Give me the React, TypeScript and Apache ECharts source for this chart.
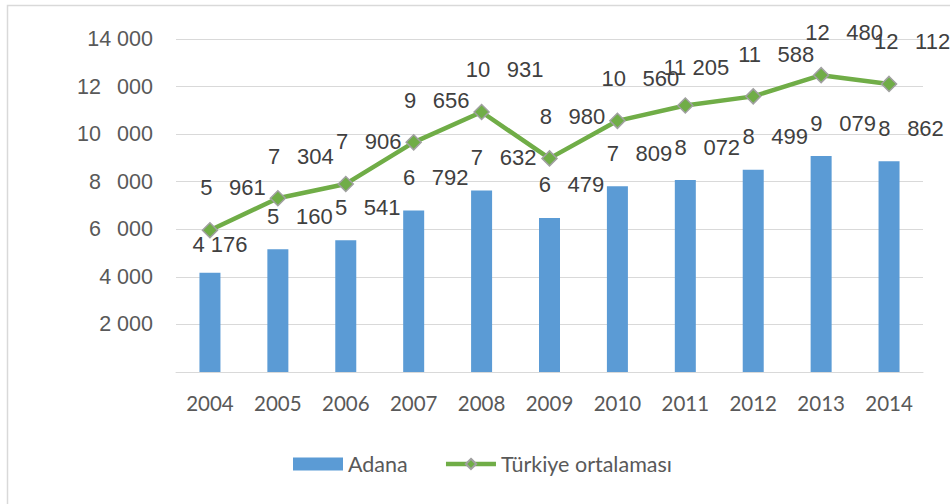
import React, { useEffect, useRef } from 'react';
import * as echarts from 'echarts';

const years = ['2004', '2005', '2006', '2007', '2008', '2009', '2010', '2011', '2012', '2013', '2014'];
const adana = [4176, 5160, 5541, 6792, 7632, 6479, 7809, 8072, 8499, 9079, 8862];
const turkiye = [5961, 7304, 7906, 9656, 10931, 8980, 10560, 11205, 11588, 12480, 12112];
const seriesNames = ['Adana', 'Türkiye ortalaması'];
// values whose thousands separator is rendered narrow in the original
const narrowLabels = [4176, 11205, 14000, 4000, 2000];

const fmt = (v: number) => {
  const s = String(Math.round(v));
  if (s.length <= 3) return s;
  const sep = narrowLabels.includes(v) ? ' ' : '\u00A0\u2009\u00A0';
  return s.slice(0, -3) + sep + s.slice(-3);
};

export default function App() {
  const ref = useRef<HTMLDivElement>(null);
  useEffect(() => {
    if (!ref.current) return;
    const chart = echarts.init(ref.current, undefined, { renderer: 'svg' });
    const arial = '"Liberation Sans", Arial, sans-serif';
    const calibri = 'Lato, "Open Sans", sans-serif';
    chart.setOption({
      animation: false,
      backgroundColor: '#ffffff',
      graphic: [
        {
          type: 'rect',
          shape: { x: 7.5, y: 5.5, width: 2000, height: 2000 },
          style: { fill: 'none', stroke: '#D9D9D9', lineWidth: 1.5 },
          silent: true,
          z: -10,
        },
      ],
      grid: { left: 176, right: 27, top: 39, bottom: 132, containLabel: false },
      legend: {
        left: 288,
        top: 447,
        itemWidth: 50,
        itemHeight: 13,
        itemGap: 36,
        textStyle: { fontFamily: calibri, fontSize: 21.5, color: '#595959', lineHeight: 24 },
        data: [
          { name: seriesNames[0], icon: 'rect' },
          { name: seriesNames[1], lineStyle: { width: 4.5, color: '#70AD47' } },
        ],
      },
      xAxis: {
        type: 'category',
        data: years,
        axisLine: { show: true, lineStyle: { color: '#D9D9D9', width: 1 } },
        axisTick: { show: false },
        axisLabel: { fontFamily: calibri, fontSize: 20.5, color: '#595959', margin: 21, lineHeight: 20 },
      },
      yAxis: {
        type: 'value',
        min: 0,
        max: 14000,
        interval: 2000,
        axisLine: { show: false },
        axisTick: { show: false },
        splitLine: { lineStyle: { color: '#D9D9D9', width: 1 } },
        axisLabel: {
          fontFamily: arial,
          fontSize: 21.5,
          color: '#595959',
          margin: 23,
          formatter: (v: number) => (v === 0 ? '' : fmt(v)),
        },
      },
      series: [
        {
          name: seriesNames[0],
          type: 'bar',
          barWidth: 21,
          itemStyle: { color: '#5B9BD5' },
          label: {
            show: true,
            position: 'top',
            distance: 0,
            fontFamily: arial,
            fontSize: 22,
            lineHeight: 22,
            color: '#404040',
            formatter: (p: any) => fmt(p.value),
          },
          data: adana.map((v) => ({
            value: v,
            label: { offset: narrowLabels.includes(v) ? [10, -17] : [22, -22] },
          })),
          z: 2,
        },
        {
          name: seriesNames[1],
          type: 'line',
          symbol: 'diamond',
          symbolSize: 15,
          lineStyle: { color: '#70AD47', width: 4.5 },
          itemStyle: { color: '#70AD47', borderColor: '#A0A0A0', borderWidth: 1.5 },
          label: {
            show: true,
            position: 'top',
            distance: 0,
            fontFamily: arial,
            fontSize: 22,
            lineHeight: 22,
            color: '#404040',
            formatter: (p: any) => fmt(p.value),
          },
          data: turkiye.map((v) => ({
            value: v,
            label: { offset: narrowLabels.includes(v) ? [11, -19] : [23, -23] },
          })),
          z: 3,
        },
      ],
    });
    return () => chart.dispose();
  }, []);
  return <div ref={ref} style={{ position: 'fixed', left: 0, top: 0, width: 950, height: 504 }} />;
}
